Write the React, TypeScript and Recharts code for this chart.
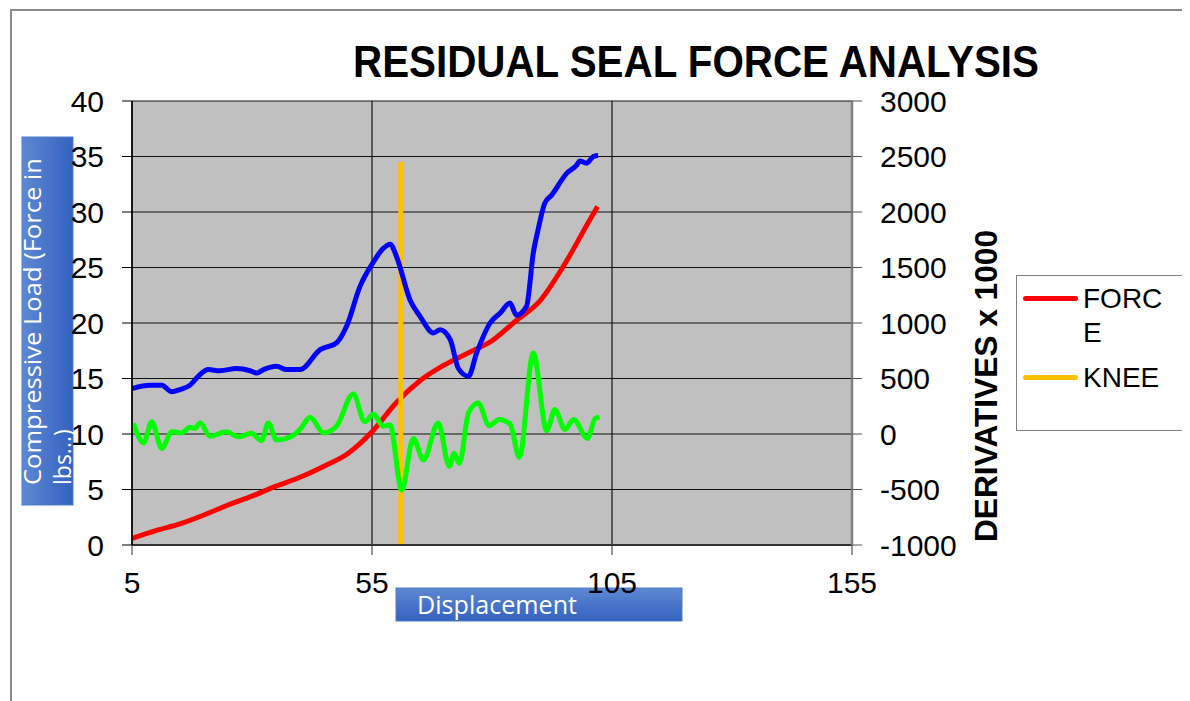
import { LineChart, Line, XAxis, YAxis, CartesianGrid, Legend } from "recharts"

const xTicks = [5, 55, 105, 155]
const loadTicks = [0, 5, 10, 15, 20, 25, 30, 35, 40]
const derivTicks = [-1000, -500, 0, 500, 1000, 1500, 2000, 2500, 3000]

// FORCE (left axis, lbs)
const forceX = [5, 10, 15, 20, 25, 30, 35, 40, 45, 50, 55, 60, 65, 70, 75, 80, 85, 90, 95, 100, 102]
const forceLoad = [0.6, 1.3, 1.9, 2.7, 3.6, 4.4, 5.3, 6.1, 7.1, 8.25, 10.2, 12.8, 14.8, 16.2, 17.3, 18.4, 20.2, 22.0, 25.2, 29.0, 30.5]

// first derivative (right axis)
const slopeX = [5, 8.75, 11.2, 13.3, 15, 17.1, 18.8, 20.9, 23.3, 26.8, 29.6, 31, 32.4, 35.1, 37.2, 40, 44.2, 47.6, 49.7, 52.5, 55.3, 57.3, 58.8, 60.1, 62.9, 65, 67.8, 69.2, 71.3, 73, 75.1, 76.8, 79.6, 81.7, 83.75, 85.1, 87.2, 88.6, 89.6, 91, 92.4, 95.6, 97.6, 98.3, 99.7, 101.1, 102.1]
const slopeVal = [410, 440, 440, 380, 400, 440, 520, 580, 570, 590, 570, 550, 580, 610, 580, 580, 760, 820, 970, 1330, 1550, 1670, 1710, 1600, 1210, 1060, 910, 940, 850, 590, 520, 730, 1000, 1090, 1180, 1070, 1150, 1630, 1840, 2080, 2150, 2350, 2420, 2460, 2440, 2500, 2510]

// second derivative (right axis)
const curveX = [5.3, 7.4, 9.1, 11.2, 13.3, 15.3, 17.1, 18.1, 19.2, 21.25, 24.7, 27.1, 29.9, 32, 33.4, 35.1, 38.3, 40, 42.1, 44.9, 47.6, 51.1, 53.5, 55.3, 57.3, 58.75, 61.2, 63.6, 65.7, 68.8, 71.1, 72.1, 73.2, 75.1, 77.1, 79.4, 81.5, 83.75, 85.7, 88.6, 91.4, 93.1, 95.2, 97, 99.9, 101.5, 102.4]
const curveVal = [96, -80, 110, -130, 20, 10, 60, 50, 100, -20, 20, -25, 6, -60, 100, -54, -20, 40, 150, 10, 70, 360, 110, 180, 70, 80, -505, -40, -234, 100, -290, -174, -264, 190, 280, 75, 130, 90, -210, 730, 30, 220, 40, 130, -40, 140, 150]

// KNEE marker
const kneeX = 61
const kneeLoad = [0, 34.5]

const forceData = forceX.map((x, i) => ({ x, force: forceLoad[i] }))
const slopeData = slopeX.map((x, i) => ({ x, slope: slopeVal[i] }))
const curveData = curveX.map((x, i) => ({ x, curve: curveVal[i] }))
const kneeData = kneeLoad.map((v) => ({ x: kneeX, knee: v }))

const tickStyle = { fontSize: 30, fill: "#000", fontFamily: "Liberation Sans, Arial, sans-serif" }

const LoadTitle = () => (
  <g>
    <defs>
      <linearGradient id="blueBoxV" x1="0" y1="0" x2="1" y2="0">
        <stop offset="0" stopColor="#5d88d3" />
        <stop offset="1" stopColor="#3462c0" />
      </linearGradient>
    </defs>
    <rect x={14} y={129} width={51} height={368} fill="url(#blueBoxV)" stroke="#4f7ccc" />
    <text transform="translate(33,477) rotate(-90)" fill="#fff" fontSize={23} fontFamily="Open Sans, sans-serif" textLength={327} lengthAdjust="spacingAndGlyphs">
      Compressive Load (Force in
    </text>
    <text transform="translate(63,477) rotate(-90)" fill="#fff" fontSize={23} fontFamily="Open Sans, sans-serif">
      lbs...)
    </text>
  </g>
)

const DispTitle = () => (
  <g>
    <defs>
      <linearGradient id="blueBoxH" x1="0" y1="0" x2="0" y2="1">
        <stop offset="0" stopColor="#5d88d3" />
        <stop offset="1" stopColor="#3462c0" />
      </linearGradient>
    </defs>
    <rect x={388} y={580} width={286} height={33} fill="url(#blueBoxH)" stroke="#4f7ccc" />
    <text x={409} y={606} fill="#fff" fontSize={26} fontFamily="Open Sans, sans-serif" textLength={160} lengthAdjust="spacingAndGlyphs">
      Displacement
    </text>
  </g>
)

const DerivTitle = () => (
  <text transform="translate(989,378) rotate(-90)" textAnchor="middle" fontSize={31} fontWeight="bold" fontFamily="Liberation Sans, Arial, sans-serif" textLength={312} lengthAdjust="spacingAndGlyphs">
    DERIVATIVES x 1000
  </text>
)

const LegendBox = (props: any) => {
  const items = (props.payload || []).filter((p: any) => p.type !== "none")
  return (
    <div style={{ position: "relative", width: 168, height: 156, border: "1.5px solid #808080", boxSizing: "border-box", background: "#fff" }}>
      {items.map((p: any, i: number) => (
        <div key={p.value} style={{ position: "absolute", left: 0, top: 6 + i * 79 }}>
          <div style={{ position: "absolute", left: 6, top: 14, width: 55, height: 5, borderRadius: 3, background: p.color }} />
          <div style={{ position: "absolute", left: 66, top: 0, width: 86, wordBreak: "break-all", fontSize: 28, lineHeight: "34px", fontFamily: "Liberation Sans, Arial, sans-serif", color: "#000" }}>
            {p.value}
          </div>
        </div>
      ))}
    </div>
  )
}

export default function App() {
  return (
    <div style={{ position: "relative", width: 1182, height: 693 }}>
      <div style={{ position: "absolute", left: 2, top: 1, right: 0, bottom: 0, borderLeft: "2px solid #8a8a8a", borderTop: "2px solid #8a8a8a" }} />
      <svg style={{ position: "absolute", left: 0, top: 0 }} width={1182} height={90}>
        <text x={688} y={69} textAnchor="middle" fontSize={45} fontWeight="bold" fontFamily="Liberation Sans, Arial, sans-serif" textLength={686} lengthAdjust="spacingAndGlyphs">
          RESIDUAL SEAL FORCE ANALYSIS
        </text>
      </svg>
      <LineChart width={1182} height={693} margin={{ top: 93, right: 188, bottom: 96, left: 64 }} style={{ position: "absolute", left: 0, top: 0 }}>
        <CartesianGrid yAxisId="left" fill="#c0c0c0" stroke="#111" strokeWidth={1.2} horizontalValues={loadTicks} verticalValues={xTicks} />
        <XAxis type="number" dataKey="x" domain={[5, 155]} ticks={xTicks} allowDataOverflow height={60}
          tickSize={10} tickMargin={17} tick={tickStyle} axisLine={{ stroke: "#333", strokeWidth: 2 }} tickLine={{ stroke: "#333" }}
          label={<DispTitle />} />
        <YAxis yAxisId="left" domain={[0, 40]} ticks={loadTicks} width={60} tickSize={10} tickMargin={18}
          tick={tickStyle} axisLine={{ stroke: "#000", strokeWidth: 1.5 }} tickLine={{ stroke: "#000" }} label={<LoadTitle />} />
        <YAxis yAxisId="right" orientation="right" domain={[-1000, 3000]} ticks={derivTicks} width={150} tickSize={10} tickMargin={18}
          tick={tickStyle} axisLine={{ stroke: "#808080", strokeWidth: 2.5 }} tickLine={{ stroke: "#555" }} label={<DerivTitle />} />
        <Legend layout="vertical" align="center" verticalAlign="middle" content={<LegendBox />}
          wrapperStyle={{ position: "absolute", left: 1008, top: 267, width: 168, height: 156 }} />
        <Line data={forceData} yAxisId="left" dataKey="force" name="FORCE" type="monotone" stroke="#ff0000" strokeWidth={5} dot={false} isAnimationActive={false} />
        <Line data={kneeData} yAxisId="left" dataKey="knee" name="KNEE" type="linear" stroke="#ffc000" strokeWidth={5} dot={false} isAnimationActive={false} />
        <Line data={slopeData} yAxisId="right" dataKey="slope" name="slope" legendType="none" type="monotone" stroke="#0000ff" strokeWidth={5} dot={false} isAnimationActive={false} />
        <Line data={curveData} yAxisId="right" dataKey="curve" name="curve" legendType="none" type="monotone" stroke="#00ff00" strokeWidth={5} dot={false} isAnimationActive={false} />
      </LineChart>
    </div>
  )
}
